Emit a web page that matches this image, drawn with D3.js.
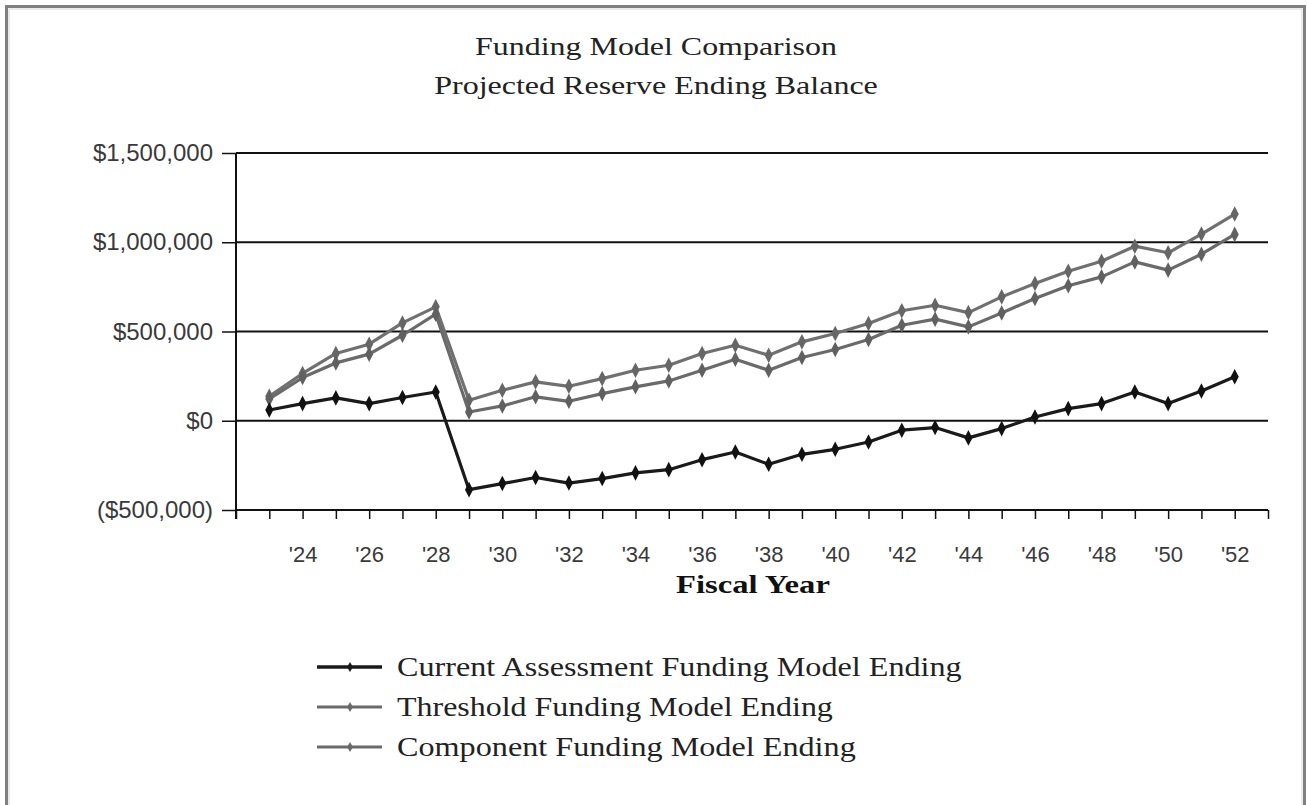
<!DOCTYPE html>
<html>
<head>
<meta charset="utf-8">
<script src="https://cdn.jsdelivr.net/npm/d3@7"></script>
<style>
  html, body { margin: 0; padding: 0; background: #fff; }
  svg { display: block; }
</style>
</head>
<body>
<svg id="chart" width="1307" height="805"></svg>
<script>
// ---- data ----
const years = [23,24,25,26,27,28,29,30,31,32,33,34,35,36,37,38,39,40,41,42,43,44,45,46,47,48,49,50,51,52];
const currentAssessment = [60000,96000,128000,96000,130000,161000,-386000,-352000,-318000,-349000,-324000,-292000,-274000,-218000,-175000,-244000,-188000,-160000,-119000,-53000,-38000,-96000,-44000,21000,68000,96000,161000,96000,167000,246000];
const thresholdModel = [122000,242000,324000,373000,479000,597000,49000,83000,134000,109000,152000,190000,223000,283000,345000,283000,354000,399000,455000,535000,569000,526000,604000,685000,756000,806000,890000,844000,933000,1044000];
const componentModel = [137000,265000,377000,429000,548000,638000,115000,171000,218000,193000,236000,283000,311000,377000,423000,367000,442000,489000,545000,616000,647000,606000,694000,769000,838000,894000,978000,941000,1046000,1158000];
const yTicks = [-500000,0,500000,1000000,1500000];
const yTickLabels = ["($500,000)","$0","$500,000","$1,000,000","$1,500,000"];
const xTickYears = [22,23,24,25,26,27,28,29,30,31,32,33,34,35,36,37,38,39,40,41,42,43,44,45,46,47,48,49,50,51,52,53];
const xLabelYears = [24,26,28,30,32,34,36,38,40,42,44,46,48,50,52];
const seriesNames = ["Current Assessment Funding Model Ending","Threshold Funding Model Ending","Component Funding Model Ending"];
const titleLines = ["Funding Model Comparison","Projected Reserve Ending Balance"];
const xAxisTitle = "Fiscal Year";

// ---- layout ----
const svg = d3.select("#chart");
const L = 236, R = 1268, T = 153, B = 510;
const x = d3.scaleLinear().domain([22,53]).range([L,R]);
const y = d3.scaleLinear().domain([-500000,1500000]).range([B,T]);

// stretch a text element horizontally so it spans a target width, anchored at (ax, ay)
function fitText(sel, ax, ay, targetW, anchor) {
  const node = sel.node();
  const w = node.getComputedTextLength();
  const k = targetW / w;
  sel.attr("x",0).attr("y",0).attr("text-anchor",anchor)
     .attr("transform",`translate(${ax},${ay}) scale(${k},1)`);
}

// frame
svg.append("rect").attr("x",6.5).attr("y",6.5).attr("width",1298).attr("height",820)
  .attr("fill","none").attr("stroke","#808080").attr("stroke-width",3);
svg.append("rect").attr("x",9).attr("y",9).attr("width",1293).attr("height",820)
  .attr("fill","none").attr("stroke","#d8d8d8").attr("stroke-width",1);

// title
const titleSpecs = [{y:55, w:362}, {y:94, w:444}];
titleLines.forEach((t,i) => {
  const tx = svg.append("text")
    .attr("font-family","'Liberation Serif', serif").attr("font-size",26)
    .attr("fill","#222").text(t);
  fitText(tx, 656, titleSpecs[i].y, titleSpecs[i].w, "middle");
});

// gridlines
svg.append("g").selectAll("line").data(yTicks).join("line")
  .attr("x1",L).attr("x2",R).attr("y1",d=>y(d)).attr("y2",d=>y(d))
  .attr("stroke","#111").attr("stroke-width",2);

// y axis
const yAxis = d3.axisLeft(y).tickValues(yTicks).tickSize(14).tickPadding(9)
  .tickFormat((d,i)=>yTickLabels[i]);
const gy = svg.append("g").attr("transform",`translate(${L},0)`).call(yAxis);
gy.select(".domain").attr("stroke","#111").attr("stroke-width",2).attr("d",`M0,${T}V${B+9}`);
gy.selectAll(".tick line").attr("stroke","#111").attr("stroke-width",1.5);
gy.selectAll(".tick text").attr("font-family","'Liberation Sans', Arial, sans-serif")
  .attr("font-size",24).attr("fill","#3a3a3a");

// x axis
const xAxis = d3.axisBottom(x).tickValues(xTickYears).tickSize(9).tickPadding(27)
  .tickFormat(d => xLabelYears.includes(d) ? "'" + d : "");
const gx = svg.append("g").attr("transform",`translate(0,${B})`).call(xAxis);
gx.select(".domain").attr("stroke","#111").attr("stroke-width",2).attr("d",`M${L},0H${R}`);
gx.selectAll(".tick line").attr("stroke","#111").attr("stroke-width",1.5);
gx.selectAll(".tick text").attr("font-family","'Liberation Sans', Arial, sans-serif")
  .attr("font-size",22).attr("fill","#3a3a3a");

// x axis title
const xt = svg.append("text")
  .attr("font-family","'Liberation Serif', serif").attr("font-weight","bold")
  .attr("font-size",26).attr("fill","#111").text(xAxisTitle);
fitText(xt, 753, 593, 154, "middle");

// series
const series = [
  {name: seriesNames[2], values: componentModel, color:"#707070", marker:"#666", width:3.2},
  {name: seriesNames[1], values: thresholdModel, color:"#6a6a6a", marker:"#606060", width:3.2},
  {name: seriesNames[0], values: currentAssessment, color:"#1a1a1a", marker:"#111", width:3.2}
];
const line = d3.line().x((d,i)=>x(years[i])).y(d=>y(d));
const diamond = d3.symbol().type(d3.symbolDiamond).size(70);
series.forEach(s => {
  const g = svg.append("g");
  g.append("path").datum(s.values).attr("d",line).attr("fill","none")
    .attr("stroke",s.color).attr("stroke-width",s.width).attr("stroke-linejoin","round");
  g.selectAll("path.m").data(s.values).join("path").attr("class","m")
    .attr("transform",(d,i)=>`translate(${x(years[i])},${y(d)}) scale(0.9,1)`)
    .attr("d",diamond).attr("fill",s.marker);
});

// legend
const legendRows = [
  {name: seriesNames[0], color:"#1a1a1a", w:565, y:667, sw:3.5},
  {name: seriesNames[1], color:"#6a6a6a", w:436, y:707, sw:3},
  {name: seriesNames[2], color:"#6a6a6a", w:459, y:747, sw:3}
];
const smallDiamond = d3.symbol().type(d3.symbolDiamond).size(30);
legendRows.forEach(r => {
  const g = svg.append("g");
  g.append("line").attr("x1",317).attr("x2",382).attr("y1",r.y).attr("y2",r.y)
    .attr("stroke",r.color).attr("stroke-width",r.sw);
  g.append("path").attr("transform",`translate(350,${r.y})`).attr("d",smallDiamond).attr("fill",r.color);
  const tx = g.append("text")
    .attr("font-family","'Liberation Serif', serif").attr("font-size",27).attr("fill","#222")
    .text(r.name);
  fitText(tx, 397, r.y + 9, r.w, "start");
});
</script>
</body>
</html>
